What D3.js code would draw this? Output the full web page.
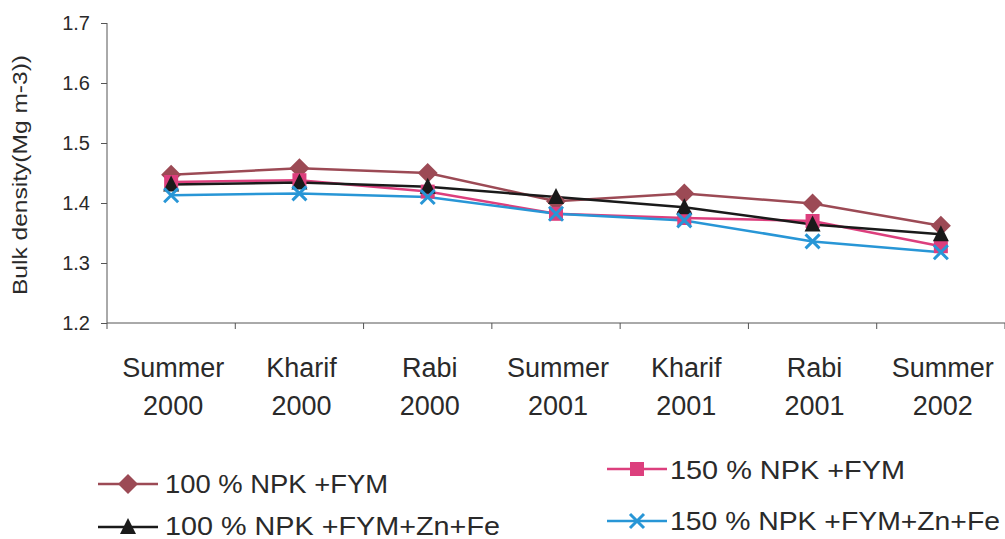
<!DOCTYPE html>
<html>
<head>
<meta charset="utf-8">
<script src="https://cdn.jsdelivr.net/npm/d3@7"></script>
<style>
	body { margin: 0; background: #fff; }
	svg { font-family: "Liberation Sans", Arial, sans-serif; }
	.axis path, .axis line { stroke: #555; stroke-width: 1; }
	.axis text { fill: #2a2a2a; }
</style>
</head>
<body>
<svg class="chartArea"></svg>
<script>
// season labels (two lines each) and series values
var seasons = ["Summer", "Kharif", "Rabi", "Summer", "Kharif", "Rabi", "Summer"];
var years = ["2000", "2000", "2000", "2001", "2001", "2001", "2002"];
var yTicks = [1.2, 1.3, 1.4, 1.5, 1.6, 1.7];

var npk100 = [1.447, 1.458, 1.450, 1.403, 1.416, 1.399, 1.362];
var npk150 = [1.435, 1.438, 1.419, 1.382, 1.375, 1.370, 1.328];
var npk100ZnFe = [1.431, 1.434, 1.427, 1.410, 1.393, 1.364, 1.348];
var npk150ZnFe = [1.413, 1.416, 1.410, 1.382, 1.371, 1.336, 1.318];

var seriesNames = ["100 % NPK +FYM", "150 % NPK +FYM", "100 % NPK +FYM+Zn+Fe", "150 % NPK +FYM+Zn+Fe"];

function drawChart(areaID) {

	var width = 1005, height = 539;
	var plot = { left: 107, right: 1005, top: 23, bottom: 323 };

	var series = [
		{ name: seriesNames[0], values: npk100, color: "#9c4a55", marker: "diamond" },
		{ name: seriesNames[1], values: npk150, color: "#dc3f7d", marker: "square" },
		{ name: seriesNames[2], values: npk100ZnFe, color: "#1a1a1a", marker: "triangle" },
		{ name: seriesNames[3], values: npk150ZnFe, color: "#2896d6", marker: "cross" }
	];

	var svg = d3.select("." + areaID)
		.attr("width", width)
		.attr("height", height);

	var x = d3.scaleBand()
		.domain(d3.range(seasons.length))
		.range([plot.left, plot.right]);

	var y = d3.scaleLinear()
		.domain([1.2, 1.7])
		.range([plot.bottom, plot.top]);

	// y axis
	var yAxis = d3.axisLeft(y)
		.tickValues(yTicks)
		.tickFormat(d3.format(".1f"))
		.tickSize(6)
		.tickPadding(11);

	var yg = svg.append("g")
		.attr("class", "y axis")
		.attr("transform", "translate(" + plot.left + ",0)")
		.call(yAxis);
	yg.select(".domain").attr("d", "M0," + plot.top + "V" + plot.bottom);
	yg.selectAll("text").style("font-size", "20px");

	// x axis: ticks between categories
	var bounds = d3.range(seasons.length + 1).map(function(i) {
		return plot.left + i * x.bandwidth();
	});
	var xg = svg.append("g").attr("class", "x axis");
	xg.append("path")
		.attr("d", "M" + plot.left + "," + plot.bottom + "H" + plot.right);
	xg.selectAll("line")
		.data(bounds)
	  .enter().append("line")
		.attr("x1", function(d) { return d; })
		.attr("x2", function(d) { return d; })
		.attr("y1", plot.bottom)
		.attr("y2", plot.bottom + 6);

	// category labels
	var labels = svg.append("g").attr("class", "xlabels");
	labels.selectAll("text.season")
		.data(seasons)
	  .enter().append("text")
		.attr("class", "season")
		.attr("text-anchor", "middle")
		.style("font-size", "27px")
		.style("fill", "#2a2a2a")
		.attr("x", function(d, i) { return x(i) + x.bandwidth() / 2 + 2; })
		.attr("y", 377)
		.text(function(d) { return d; });
	labels.selectAll("text.yr")
		.data(years)
	  .enter().append("text")
		.attr("class", "yr")
		.attr("text-anchor", "middle")
		.style("font-size", "27px")
		.style("fill", "#2a2a2a")
		.attr("x", function(d, i) { return x(i) + x.bandwidth() / 2 + 2; })
		.attr("y", 415)
		.text(function(d) { return d; });

	// y axis title
	svg.append("text")
		.attr("transform", "translate(27,175) rotate(-90)")
		.attr("text-anchor", "middle")
		.attr("textLength", 240)
		.attr("lengthAdjust", "spacingAndGlyphs")
		.style("font-size", "20px")
		.style("fill", "#2a2a2a")
		.text("Bulk density(Mg m-3))");

	var line = d3.line()
		.x(function(d, i) { return x(i) + x.bandwidth() / 2; })
		.y(function(d) { return y(d); });

	// lines first, then markers on top
	series.forEach(function(s) {
		svg.append("path")
			.attr("d", line(s.values))
			.attr("fill", "none")
			.attr("stroke", s.color)
			.attr("stroke-width", 2.5);
	});
	series.forEach(function(s) {
		s.values.forEach(function(v, i) {
			drawMarker(svg, s, x(i) + x.bandwidth() / 2, y(v));
		});
	});

	// legend
	var legendPos = [
		{ x: 98, y: 484, tx: 165, ty: 493, len: 223 },
		{ x: 607, y: 469, tx: 670, ty: 479, len: 235 },
		{ x: 98, y: 527, tx: 165, ty: 535, len: 335 },
		{ x: 607, y: 521, tx: 670, ty: 530, len: 330 }
	];
	series.forEach(function(s, i) {
		var p = legendPos[i];
		svg.append("line")
			.attr("x1", p.x).attr("x2", p.x + 60)
			.attr("y1", p.y).attr("y2", p.y)
			.attr("stroke", s.color)
			.attr("stroke-width", 2.5);
		drawMarker(svg, s, p.x + 30, p.y);
		svg.append("text")
			.attr("x", p.tx)
			.attr("y", p.ty)
			.attr("textLength", p.len)
			.attr("lengthAdjust", "spacingAndGlyphs")
			.style("font-size", "25px")
			.style("fill", "#2a2a2a")
			.text(s.name);
	});

	function drawMarker(g, s, cx, cy) {
		if (s.marker === "diamond") {
			g.append("path")
				.attr("d", "M" + cx + "," + (cy - 10) + "L" + (cx + 10) + "," + cy + "L" + cx + "," + (cy + 10) + "L" + (cx - 10) + "," + cy + "Z")
				.attr("fill", s.color);
		} else if (s.marker === "square") {
			g.append("rect")
				.attr("x", cx - 7).attr("y", cy - 7)
				.attr("width", 14).attr("height", 14)
				.attr("fill", s.color);
		} else if (s.marker === "triangle") {
			g.append("path")
				.attr("d", "M" + cx + "," + (cy - 9) + "L" + (cx + 8) + "," + (cy + 7) + "L" + (cx - 8) + "," + (cy + 7) + "Z")
				.attr("fill", s.color);
		} else {
			g.append("path")
				.attr("d", "M" + (cx - 7) + "," + (cy - 7) + "L" + (cx + 7) + "," + (cy + 7) + "M" + (cx + 7) + "," + (cy - 7) + "L" + (cx - 7) + "," + (cy + 7))
				.attr("stroke", s.color)
				.attr("stroke-width", 3)
				.attr("fill", "none");
		}
	}
}

drawChart("chartArea");
</script>
</body>
</html>
